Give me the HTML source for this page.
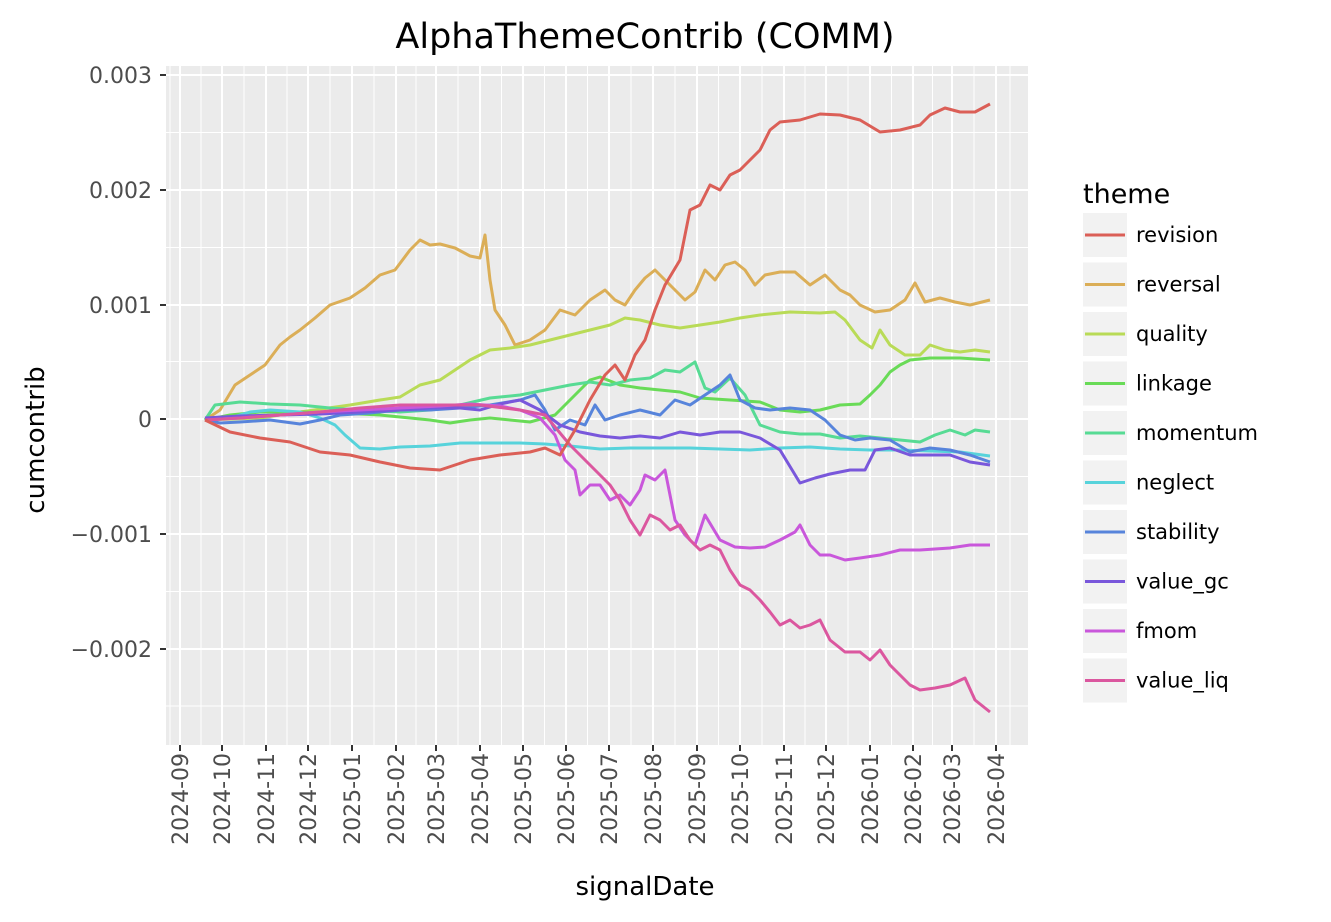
<!DOCTYPE html>
<html><head><meta charset="utf-8"><style>body{margin:0;background:#fff}svg{display:block;font-family:"DejaVu Sans","Liberation Sans",sans-serif}</style></head>
<body>
<svg width="1331" height="922" viewBox="0 0 1331 922">
<rect width="1331" height="922" fill="#fff"/>
<rect x="166" y="66" width="862" height="679" fill="#ebebeb"/>
<g id="grid"></g>
<g id="ser" fill="none" stroke-width="3" stroke-linejoin="round"></g>
<text x="645" y="48" font-size="35" text-anchor="middle" fill="#000">AlphaThemeContrib (COMM)</text>
<text x="645" y="895" font-size="26" text-anchor="middle">signalDate</text>
<text transform="translate(44,440) rotate(-90)" font-size="26" text-anchor="middle">cumcontrib</text>
<g id="yt" font-size="22" fill="#4d4d4d" text-anchor="end"></g>
<g id="xt" font-size="22" fill="#4d4d4d" text-anchor="end"></g>
<text x="1083" y="203" font-size="27">theme</text>
<g id="leg" font-size="21"></g>
</svg>
<script>
const NS="http://www.w3.org/2000/svg";
function el(p,t,a,txt){const e=document.createElementNS(NS,t);for(const k in a)e.setAttribute(k,a[k]);if(txt!==undefined)e.textContent=txt;document.getElementById(p).appendChild(e);return e;}
const yt=[[75,"0.003"],[190,"0.002"],[305,"0.001"],[419,"0"],[534,"\u22120.001"],[649,"\u22120.002"]];
const xt=[180,222,266,308,352,396,436,480,523,566,609,653,697,740,784,826,870,913,952,996];
const xl=["2024-09","2024-10","2024-11","2024-12","2025-01","2025-02","2025-03","2025-04","2025-05","2025-06","2025-07","2025-08","2025-09","2025-10","2025-11","2025-12","2026-01","2026-02","2026-03","2026-04"];
for(let i=0;i<yt.length;i++){const y=yt[i][0];el("grid","line",{x1:166,x2:1028,y1:y-57.5,y2:y-57.5,stroke:"#fff","stroke-width":1});}
el("grid","line",{x1:166,x2:1028,y1:706,y2:706,stroke:"#fff","stroke-width":1});
for(let i=0;i<xt.length-1;i++){const x=(xt[i]+xt[i+1])/2;el("grid","line",{x1:x,x2:x,y1:66,y2:745,stroke:"#fff","stroke-width":1});}
el("grid","line",{x1:170,x2:170,y1:66,y2:745,stroke:"#fff","stroke-width":1});
el("grid","line",{x1:1010,x2:1010,y1:66,y2:745,stroke:"#fff","stroke-width":1});
yt.forEach(([y,t])=>{el("grid","line",{x1:166,x2:1028,y1:y,y2:y,stroke:"#fff","stroke-width":2});el("grid","line",{x1:160,x2:166,y1:y,y2:y,stroke:"#333","stroke-width":2});el("yt","text",{x:152,y:y+8},t);});
xt.forEach((x,i)=>{el("grid","line",{x1:x,x2:x,y1:66,y2:745,stroke:"#fff","stroke-width":2});el("grid","line",{x1:x,x2:x,y1:745,y2:751,stroke:"#333","stroke-width":2});el("xt","text",{transform:`translate(${x+8},753) rotate(-90)`},xl[i]);});
const S={
"#dbae57":"205,420 220,410 235,385 250,375 265,365 280,345 290,337 300,330 315,318 330,305 350,298 365,288 380,275 395,270 410,250 420,240 430,245 440,244 455,248 470,256 480,258 485,235 490,280 495,310 505,325 515,345 530,340 545,330 560,310 575,315 590,300 605,290 615,300 625,305 635,290 645,278 655,270 665,280 675,290 685,300 695,292 705,270 715,280 725,265 735,262 745,270 755,285 765,275 780,272 795,272 810,285 825,275 840,290 850,295 860,305 875,312 890,310 905,300 915,283 925,302 940,298 955,302 970,305 990,300",
"#b9db57":"205,420 260,418 300,412 350,405 380,400 400,397 420,385 440,380 455,370 470,360 490,350 510,348 530,345 550,340 570,335 590,330 610,325 625,318 640,320 660,325 680,328 700,325 720,322 740,318 760,315 790,312 820,313 835,312 845,320 860,340 872,348 880,330 890,345 905,355 920,355 930,345 945,350 960,352 975,350 990,352",
"#69db57":"205,420 230,415 260,412 300,412 340,413 380,415 410,418 430,420 450,423 470,420 490,418 510,420 530,422 555,415 575,395 590,380 600,377 620,385 640,388 660,390 680,392 700,398 730,400 760,402 780,410 800,412 820,410 840,405 860,404 870,395 880,385 890,372 900,365 910,360 930,358 960,358 990,360",
"#57db94":"205,420 215,405 240,402 270,404 300,405 330,408 360,410 400,412 430,410 460,405 490,398 520,395 545,390 570,385 590,382 610,385 630,380 650,378 665,370 680,372 695,362 705,388 715,392 730,378 745,395 760,425 780,432 800,434 820,434 840,438 860,436 880,438 900,440 920,442 935,435 950,430 965,435 975,430 990,432",
"#57d3db":"205,420 230,418 250,412 270,410 300,412 320,418 335,425 345,435 360,448 380,449 400,447 430,446 460,443 490,443 520,443 545,444 570,446 600,449 630,448 660,448 690,448 720,449 750,450 780,448 810,447 840,449 870,450 900,450 930,451 960,452 990,456",
"#5784db":"205,420 220,423 240,422 270,420 300,424 320,420 340,415 370,413 400,410 430,410 460,408 490,405 520,400 535,395 545,410 555,430 570,420 585,425 595,405 605,420 620,415 640,410 660,415 675,400 690,405 705,395 720,385 730,375 740,400 755,408 770,410 790,408 810,410 825,420 840,435 855,440 870,438 890,440 910,452 930,448 950,450 970,455 990,462",
"#7957db":"205,418 240,416 280,415 320,414 360,412 400,410 430,408 460,408 480,410 500,404 520,400 540,410 560,425 580,432 600,436 620,438 640,436 660,438 680,432 700,435 720,432 740,432 760,438 780,450 800,483 815,478 830,474 850,470 865,470 875,450 890,448 910,455 930,455 950,455 970,462 990,465",
"#c957db":"205,420 240,418 280,415 320,412 360,410 400,408 440,406 470,404 500,406 520,410 540,418 555,435 565,460 575,470 580,495 590,485 600,485 610,500 620,495 630,505 640,490 645,475 655,480 665,470 675,520 685,535 695,545 705,515 720,540 735,547 750,548 765,547 780,540 795,532 800,525 810,545 820,555 830,555 845,560 860,558 880,555 900,550 920,550 950,548 970,545 990,545",
"#db579f":"205,420 240,418 280,415 320,412 360,408 400,405 440,405 480,405 520,410 545,415 570,445 590,465 610,485 620,500 630,520 640,535 650,515 660,520 670,530 680,525 690,540 700,550 710,545 720,550 730,570 740,585 750,590 760,600 770,612 780,625 790,620 800,628 810,625 820,620 830,640 845,652 860,652 870,660 880,650 890,665 900,675 910,685 920,690 935,688 950,685 965,678 975,700 990,712",
"#db5f57":"205,420 230,432 260,438 290,442 320,452 350,455 380,462 410,468 440,470 470,460 500,455 530,452 545,448 560,455 575,430 590,400 605,375 615,365 625,380 635,355 645,340 655,310 665,285 680,260 690,210 700,205 710,185 720,190 730,175 740,170 750,160 760,150 770,130 780,122 800,120 820,114 840,115 860,120 870,126 880,132 900,130 920,125 930,115 945,108 960,112 975,112 990,104"};
for(const c in S)el("ser","polyline",{points:S[c],stroke:c});
const L=[["revision","#db5f57"],["reversal","#dbae57"],["quality","#b9db57"],["linkage","#69db57"],["momentum","#57db94"],["neglect","#57d3db"],["stability","#5784db"],["value_gc","#7957db"],["fmom","#c957db"],["value_liq","#db579f"]];
L.forEach(([n,c],i)=>{const y=235+i*49.5;el("leg","rect",{x:1083,y:y-22,width:44,height:44,fill:"#f2f2f2"});el("leg","line",{x1:1085,x2:1125,y1:y,y2:y,stroke:c,"stroke-width":3});el("leg","text",{x:1136,y:y+7},n);});
</script>
</body></html>
